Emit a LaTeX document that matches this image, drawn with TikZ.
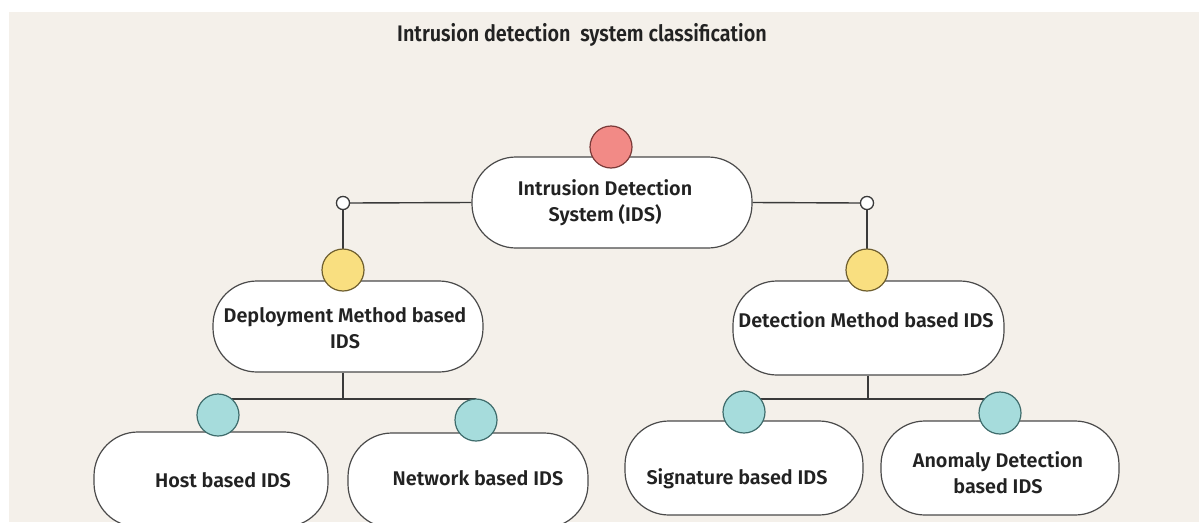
\documentclass[tikz,border=0pt]{standalone}
\usepackage{fontspec}
\IfFontExistsTF{Fira Sans SemiBold}{\setmainfont{Fira Sans SemiBold}\newfontfamily\titlefont[FakeStretch=0.88]{Fira Sans SemiBold}}{\IfFontExistsTF{Fira Sans Medium}{\setmainfont{Fira Sans Medium}\newfontfamily\titlefont[FakeStretch=0.88]{Fira Sans Medium}}{\setmainfont{Fira Sans}\newfontfamily\titlefont[FakeStretch=0.88]{Fira Sans}}}
\definecolor{bgbeige}{HTML}{F4F0EA}
\definecolor{linegray}{HTML}{3A3A3A}
\definecolor{pillgray}{HTML}{4A4A4A}
\definecolor{redfill}{HTML}{F28A86}
\definecolor{redline}{HTML}{7A3A38}
\definecolor{yelfill}{HTML}{F9DF80}
\definecolor{yelline}{HTML}{6E5E2E}
\definecolor{tealfill}{HTML}{A6DCDC}
\definecolor{tealline}{HTML}{3E6B6B}
\definecolor{txt}{HTML}{222222}
\tikzset{
  pill/.style={draw=pillgray, line width=1.2pt, fill=white, rounded corners=44pt, inner sep=0pt},
  lbl/.style={text=txt, font=\fontsize{19.8}{26}\selectfont, align=center, inner sep=0pt},
  conn/.style={draw=linegray, line width=1.4pt},
  dotA/.style={circle, draw=redline, fill=redfill, line width=1.2pt, minimum size=42pt, inner sep=0pt},
  dotB/.style={circle, draw=yelline, fill=yelfill, line width=1.2pt, minimum size=42pt, inner sep=0pt},
  dotC/.style={circle, draw=tealline, fill=tealfill, line width=1.2pt, minimum size=42pt, inner sep=0pt},
  knot/.style={circle, draw=linegray, fill=white, line width=1.2pt, minimum size=13pt, inner sep=0pt}
}
\begin{document}
\begin{tikzpicture}[x=1pt,y=-1pt]
\path[use as bounding box, clip] (0,0) rectangle (1199,522);
\fill[white] (0,0) rectangle (1199,522);
\fill[bgbeige] (9,12) rectangle (1199,522);
\node[text=txt, font=\titlefont\fontsize{22.5}{25}\selectfont, inner sep=0pt] (title) at (582,35) {Intrusion detection\ \ system classification};
% pills
\node[pill, minimum width=280pt, minimum height=91pt] (root) at (612,202.5) {};
\node[pill, minimum width=270pt, minimum height=91pt] (dep) at (348,326.5) {};
\node[pill, minimum width=271pt, minimum height=94pt] (det) at (868.5,328) {};
\node[pill, minimum width=234pt, minimum height=95pt] (host) at (211,479.5) {};
\node[pill, minimum width=240pt, minimum height=95pt] (net) at (468,480.5) {};
\node[pill, minimum width=238pt, minimum height=94pt] (sig) at (744,468) {};
\node[pill, minimum width=238pt, minimum height=94pt] (anom) at (1000,468) {};
% texts
\node[lbl] (rootT) at (605,203) {Intrusion Detection\\System (IDS)};
\node[lbl] (depT) at (345,328.5) {Deployment Method based\\IDS};
\node[lbl] (detT) at (866,320) {Detection Method based IDS};
\node[lbl] (hostT) at (223,480) {Host based IDS};
\node[lbl] (netT) at (478,478) {Network based IDS};
\node[lbl] (sigT) at (737,479) {Signature based IDS};
\node[lbl] (anomT) at (998,472.5) {Anomaly Detection\\based IDS};
% junction points
\node[knot] (kL) at (343,203) {};
\node[knot] (kR) at (867,203) {};
\coordinate (jL) at (343,399);
\coordinate (jR) at (868,399);
% coloured dots positions
\coordinate (pRed) at (611,147);
\coordinate (pY1) at (343,270);
\coordinate (pY2) at (867,270);
\coordinate (pT1) at (218,415);
\coordinate (pT2) at (476,420);
\coordinate (pT3) at (744,412);
\coordinate (pT4) at (1000,413);
% connectors
\draw[conn] (root.west) -- (kL.east);
\draw[conn] (root.east) -- (kR.west);
\draw[conn] (kL.south) -- (pY1);
\draw[conn] (kR.south) -- (pY2);
\draw[conn] (dep.south -| jL) -- (jL);
\draw[conn] (pT1 |- jL) -- (pT2 |- jL);
\draw[conn] (det.south -| jR) -- (jR);
\draw[conn] (pT3 |- jR) -- (pT4 |- jR);
% knots on top
\node[knot] at (kL) {};
\node[knot] at (kR) {};
% dots
\node[dotA] (cRed) at (pRed) {};
\node[dotB] (cY1) at (pY1) {};
\node[dotB] (cY2) at (pY2) {};
\node[dotC] (cT1) at (pT1) {};
\node[dotC] (cT2) at (pT2) {};
\node[dotC] (cT3) at (pT3) {};
\node[dotC] (cT4) at (pT4) {};
\end{tikzpicture}
\end{document}
